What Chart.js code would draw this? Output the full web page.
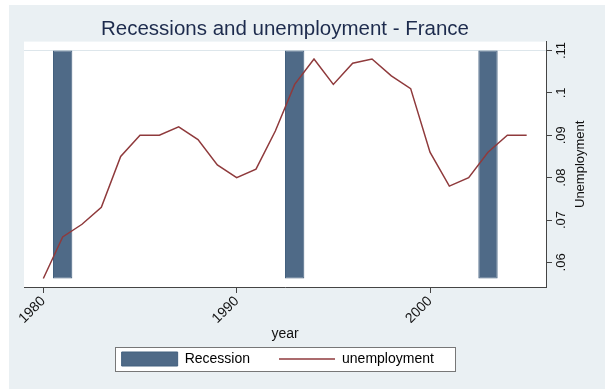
<!DOCTYPE html>
<html>
<head>
<meta charset="utf-8">
<title>Recessions and unemployment - France</title>
<script src="https://cdn.jsdelivr.net/npm/chart.js@4/dist/chart.umd.min.js"></script>
<style>
  html, body { margin: 0; padding: 0; background: #fff; }
  .wrap { width: 605px; height: 389px; }
</style>
</head>
<body>
<div class="wrap"><canvas class="chart"></canvas></div>
<script>
// unemployment rate by year
const years = [1980, 1981, 1982, 1983, 1984, 1985, 1986, 1987, 1988, 1989, 1990, 1991, 1992,
  1993, 1994, 1995, 1996, 1997, 1998, 1999, 2000, 2001, 2002, 2003, 2004, 2005];
const unemployment = [0.0562, 0.066, 0.069, 0.073, 0.085, 0.090, 0.090, 0.092, 0.089, 0.083, 0.080, 0.082, 0.091,
  0.102, 0.108, 0.102, 0.107, 0.108, 0.104, 0.101, 0.086, 0.078, 0.080, 0.086, 0.090, 0.090];

// recession years, drawn as floating bars
const recessionYears = [1981, 1993, 2003];
const recessionLow = [0.0562, 0.0562, 0.0562];
const recessionHigh = [0.11, 0.11, 0.11];

const xTicks = [1980, 1990, 2000];
const yTicks = [0.06, 0.07, 0.08, 0.09, 0.10, 0.11];

const FONT = '"Liberation Sans", Arial, Helvetica, sans-serif';
const BAR = '#4f6a87';
const LINE = '#8f3a3c';
const INK = '#111';
const AXIS = '#444';

// legend frame margins around the items (wider on the right)
const FRAME_LEFT = 6.5;
const FRAME_RIGHT = 21;

Chart.defaults.font.family = FONT;

// grey backdrop, white plot region, framed legend, right axis title
const frame = {
  id: 'frame',
  afterLayout(chart) {
    // keep the legend frame, not the bare items, centred under the plot
    const shift = (FRAME_RIGHT - FRAME_LEFT) / 2;
    chart.legend.left -= shift;
    chart.legend.right -= shift;
  },
  beforeDraw(chart) {
    const {ctx, chartArea: a, legend} = chart;
    ctx.save();
    ctx.fillStyle = '#eaf0f3';
    ctx.fillRect(9, 5, chart.width - 9, chart.height - 5);
    ctx.fillStyle = '#fff';
    ctx.fillRect(a.left, a.top, a.right - a.left, a.bottom - a.top);
    const hb = legend.legendHitBoxes;
    if (hb && hb.length) {
      const first = hb[0], last = hb[hb.length - 1];
      const cy = first.top + first.height / 2;
      const x0 = Math.round(first.left - FRAME_LEFT) + 0.5;
      const x1 = Math.round(last.left + last.width + FRAME_RIGHT) + 0.5;
      const y0 = Math.round(cy - 12) + 0.5;
      const y1 = Math.round(cy + 12) + 0.5;
      ctx.fillRect(x0, y0, x1 - x0, y1 - y0);
      ctx.strokeStyle = '#777';
      ctx.lineWidth = 1;
      ctx.strokeRect(x0, y0, x1 - x0, y1 - y0);
    }
    ctx.restore();
  },
  afterDraw(chart) {
    const {ctx} = chart;
    const y = chart.scales.y;
    ctx.save();
    ctx.translate(y.right - 25, (y.top + y.bottom) / 2);
    ctx.rotate(-Math.PI / 2);
    ctx.textAlign = 'center';
    ctx.textBaseline = 'middle';
    ctx.font = '13px ' + FONT;
    ctx.fillStyle = INK;
    ctx.fillText('Unemployment', 0, 0);
    ctx.restore();
  }
};

const ctx = document.querySelector('.chart');
new Chart(ctx, {
  type: 'bar',
  data: {
    datasets: [{
      type: 'bar',
      label: 'Recession',
      data: recessionYears.map((yr, i) => ({x: yr, y: [recessionLow[i], recessionHigh[i]]})),
      backgroundColor: BAR,
      borderColor: '#43607e',
      borderWidth: 1,
      borderSkipped: false,
      barPercentage: 1,
      categoryPercentage: 0.1,
      order: 2
    }, {
      type: 'line',
      label: 'unemployment',
      data: years.map((yr, i) => ({x: yr, y: unemployment[i]})),
      borderColor: LINE,
      backgroundColor: LINE,
      borderWidth: 1.5,
      pointRadius: 0,
      tension: 0,
      order: 1
    }]
  },
  options: {
    responsive: true,
    maintainAspectRatio: false,
    animation: false,
    layout: { padding: { top: 17, left: 24, right: 0, bottom: 13 } },
    plugins: {
      title: {
        display: true,
        fullSize: false,
        text: 'Recessions and unemployment - France',
        color: '#1d2b4d',
        font: { size: 20.5, weight: 'normal' },
        padding: 0
      },
      legend: {
        position: 'bottom',
        fullSize: false,
        labels: {
          color: INK,
          font: { size: 14 },
          usePointStyle: true,
          pointStyleWidth: 56,
          padding: 29,
          generateLabels: chart => chart.data.datasets.map((ds, i) => ({
            text: ds.label,
            fillStyle: ds.backgroundColor,
            strokeStyle: ds.borderColor,
            lineWidth: ds.type === 'line' ? 1.6 : 1,
            pointStyle: ds.type === 'line' ? 'line' : 'rect',
            datasetIndex: i,
            hidden: false
          }))
        }
      },
      tooltip: { enabled: false }
    },
    scales: {
      x: {
        type: 'linear',
        min: 1979,
        max: 2006,
        offset: false,
        afterBuildTicks: s => { s.ticks = xTicks.map(v => ({value: v})); },
        afterFit: s => { s.height = 36; },
        ticks: {
          autoSkip: false,
          minRotation: 45,
          maxRotation: 45,
          padding: 0,
          color: INK,
          font: { size: 14 },
          callback: v => String(v)
        },
        grid: { drawOnChartArea: false, offset: false, tickLength: 6, tickColor: AXIS },
        border: { color: AXIS },
        title: {
          display: true,
          text: 'year',
          color: INK,
          font: { size: 14 },
          padding: { top: 0, bottom: -19.5 }
        }
      },
      y: {
        position: 'right',
        min: 0.0542,
        max: 0.1121,
        beginAtZero: false,
        afterBuildTicks: s => { s.ticks = yTicks.map(v => ({value: v})); },
        afterFit: s => { s.width = 59; },
        ticks: {
          minRotation: 90,
          maxRotation: 90,
          crossAlign: 'center',
          padding: 0,
          color: INK,
          font: { size: 13 },
          callback: v => String(v).replace(/^0\./, '.')
        },
        grid: {
          color: c => (c.tick && c.tick.value === 0.11 ? '#dde6eb' : 'rgba(0,0,0,0)'),
          tickColor: AXIS,
          tickLength: 6
        },
        border: { color: AXIS }
      }
    }
  },
  plugins: [frame]
});
</script>
</body>
</html>
